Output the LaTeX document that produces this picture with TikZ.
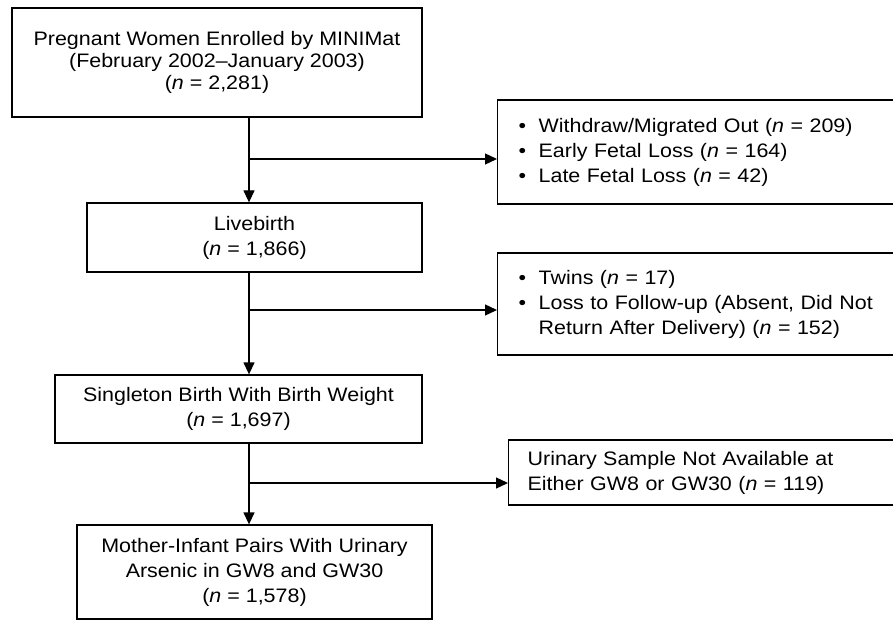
\documentclass[tikz,border=0pt]{standalone}
\usepackage{fontspec}
\setmainfont{Liberation Sans}[FakeStretch=1.1]
\usetikzlibrary{arrows.meta,positioning}

\newcommand{\bul}{\makebox[20pt][l]{\textbullet}}
\newcommand{\nn}{\textit{n}}

\begin{document}
\begin{tikzpicture}[
  x=1pt,y=-1pt,
  font=\fontsize{19.5}{25}\selectfont,
  box/.style={rectangle,draw=black,line width=1.3pt,align=center,inner sep=0pt},
  lowtext/.style={execute at begin node=\rule{0pt}{22pt}},
  sidebox/.style={rectangle,draw=black,line width=1.3pt,align=left,anchor=west,
                  inner ysep=0pt},
  arr/.style={-{Triangle[length=12pt,width=11pt]},line width=1.3pt},
]
\useasboundingbox (0,0) rectangle (893,620);

% main column
\node[box,minimum width=410pt,minimum height=109pt,
      font=\fontsize{19.5}{22}\selectfont] (enrol) at (217,62.5)
   {Pregnant Women Enrolled by MINIMat\\(February 2002--January 2003)\\(\nn{} = 2,281)};
\node[box,lowtext,minimum width=335pt,minimum height=69pt] (live) at (254.5,237.5)
   {Livebirth\\(\nn{} = 1,866)};
\node[box,lowtext,minimum width=367pt,minimum height=68pt] (single) at (238.5,409)
   {Singleton Birth With Birth Weight\\(\nn{} = 1,697)};
\node[box,lowtext,minimum width=355pt,minimum height=94pt] (pairs) at (254.5,572)
   {Mother-Infant Pairs With Urinary\\Arsenic in GW8 and GW30\\(\nn{} = 1,578)};

% exclusions
\node[sidebox,inner xsep=21pt,text width=380pt,minimum height=104pt] (excl1) at (497,152)
   {\bul Withdraw/Migrated Out (\nn{} = 209)\\
    \bul Early Fetal Loss (\nn{} = 164)\\
    \bul Late Fetal Loss (\nn{} = 42)};
\node[sidebox,inner xsep=21pt,text width=380pt,minimum height=102pt] (excl2) at (497,304)
   {\bul Twins (\nn{} = 17)\\
    \bul Loss to Follow-up (Absent, Did Not\\
    \hspace*{20pt}Return After Delivery) (\nn{} = 152)};
\node[sidebox,inner xsep=19pt,text width=380pt,minimum height=65pt] (urine) at (508,472.5)
   {Urinary Sample Not Available at\\Either GW8 or GW30 (\nn{} = 119)};

\coordinate (spine) at (249,0);
\coordinate (b1) at (249,159);
\coordinate (b2) at (249,310);
\coordinate (b3) at (249,483);

\draw[arr] (enrol.south -| spine) -- (live.north -| spine);
\draw[arr] (live.south -| spine) -- (single.north -| spine);
\draw[arr] (single.south -| spine) -- (pairs.north -| spine);
\draw[arr] (b1) -- (b1 -| excl1.west);
\draw[arr] (b2) -- (b2 -| excl2.west);
\draw[arr] (b3) -- (b3 -| urine.west);
\end{tikzpicture}
\end{document}
